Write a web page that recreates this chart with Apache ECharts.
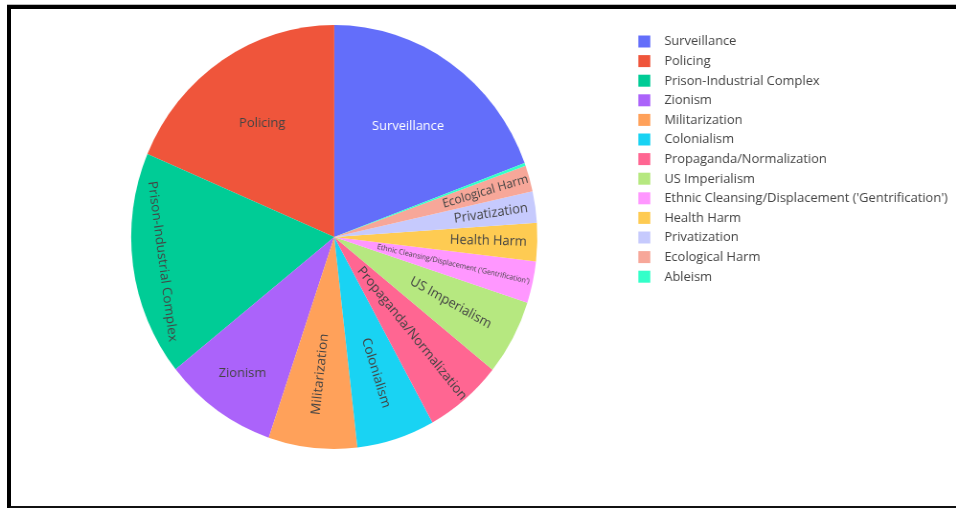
<!DOCTYPE html>
<html><head><meta charset="utf-8">
<script src="https://cdn.jsdelivr.net/npm/echarts@6/dist/echarts.min.js"></script>
<style>
html,body{margin:0;padding:0;background:#fff;overflow:hidden;width:956px;height:508px;}
#chart{position:absolute;left:0;top:0;width:998px;height:508px;transform:scaleX(0.958);transform-origin:0 0;}
#frame{position:absolute;left:7px;top:5px;width:1000px;height:496.5px;border-left:4px solid #000;border-top:4px solid #000;border-bottom:4px solid #111;box-shadow:0 -1px 0 #bbb;pointer-events:none;}
</style></head><body>
<div id="chart"></div><div id="frame"></div>
<script>
// ---- data ----
const categories = [
  "Surveillance", "Policing", "Prison-Industrial Complex", "Zionism", "Militarization",
  "Colonialism", "Propaganda/Normalization", "US Imperialism",
  "Ethnic Cleansing/Displacement ('Gentrification')", "Health Harm", "Privatization",
  "Ecological Harm", "Ableism"
];
const values = [19.33, 18.59, 17.14, 9.04, 7.05, 6.21, 6.19, 5.77, 3.16, 2.93, 2.39, 1.98, 0.22];

// ---- styles ----
const colors = ["#636efa", "#ef553b", "#00cc96", "#ab63fa", "#ffa15a", "#19d3f3", "#ff6692",
  "#b6e880", "#ff97ff", "#fecb52", "#c6cafd", "#f7a799", "#33ffc9"];
const labelRotate = [0, 0, "tangential", 0, "radial", "radial", "radial", "radial", "radial", "radial", "radial", "radial", 0];
const labelRadius = [0.637, 0.643, 0.854, 0.786, 0.651, 0.674, 0.594, 0.652, 0.600, 0.759, 0.779, 0.774, 0.7];
const labelSize = [13.45, 13.45, 13.45, 13.45, 13.45, 13.45, 13.45, 13.45, 7.4, 13.45, 13.45, 12.4, 13.45];
const labelColor = ["#ffffff", "#444", "#444", "#444", "#444", "#444", "#444", "#444", "#444", "#444", "#444", "#444", "#444"];

const CX = 348.9, CY = 237, R = 212;
const FONT = '"Open Sans", verdana, arial, sans-serif';
const total = values.reduce((a, b) => a + b, 0);

const chart = echarts.init(document.getElementById('chart'), null, {renderer: 'canvas'});
chart.setOption({
  animation: false,
  backgroundColor: '#fff',
  legend: {
    orient: 'vertical',
    left: 666.3, top: 35,
    padding: 0,
    itemWidth: 12.5, itemHeight: 12, itemGap: 6.6,
    icon: 'rect',
    selectedMode: false,
    data: categories,
    textStyle: {fontFamily: FONT, fontSize: 13.45, color: '#444', lineHeight: 12, padding: [0, 0, 0, 9.6]}
  },
  series: [{
    type: 'pie',
    center: [CX, CY],
    radius: R,
    clockwise: false,
    startAngle: 90 - 360 * values[0] / total,
    avoidLabelOverlap: false,
    minShowLabelAngle: 2,
    label: {show: true, position: 'inside', fontFamily: FONT, fontSize: 13.45, color: '#444'},
    labelLine: {show: false},
    emphasis: {disabled: true},
    itemStyle: {borderWidth: 0},
    labelLayout: function (p) {
      const f = labelRadius[p.dataIndex];
      const r = p.labelRect;
      const lx = r.x + r.width / 2, ly = r.y + r.height / 2;
      const d = Math.hypot(lx - CX, ly - CY) || 1;
      return {x: CX + (lx - CX) / d * f * R, y: CY + (ly - CY) / d * f * R};
    },
    data: categories.map((n, i) => ({
      name: n,
      value: values[i],
      itemStyle: {color: colors[i]},
      label: {rotate: labelRotate[i], fontSize: labelSize[i], color: labelColor[i]}
    }))
  }]
});
</script>
</body></html>
